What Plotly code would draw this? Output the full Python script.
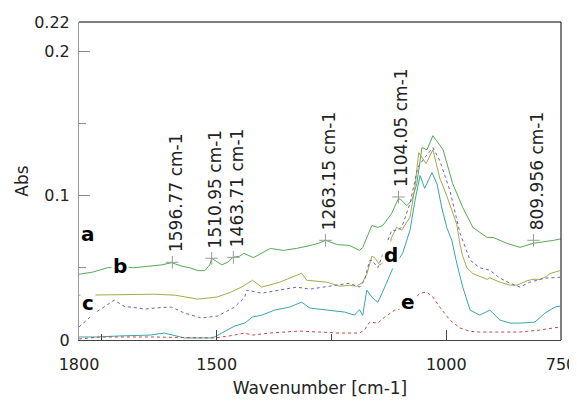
import plotly.graph_objects as go

# ---- data (wavenumber in cm-1, absorbance) ----
wn_a = [1800, 1770, 1738, 1710, 1681, 1650, 1620, 1598, 1575, 1559, 1540, 1526, 1515, 1511,
        1500, 1489, 1475, 1465, 1450, 1441, 1420, 1383, 1355, 1326, 1295, 1278, 1263, 1237,
        1211, 1189, 1182, 1162, 1149, 1138, 1119, 1104, 1097, 1086, 1075, 1064, 1053, 1042,
        1029, 1007, 986, 964, 942, 911, 898, 868, 839, 811, 766, 750]
abs_a = [0.0455, 0.047, 0.050, 0.051, 0.050, 0.051, 0.052, 0.0535, 0.051, 0.050, 0.048, 0.048,
         0.052, 0.0566, 0.054, 0.052, 0.054, 0.0572, 0.058, 0.060, 0.057, 0.0634, 0.062, 0.0634,
         0.0655, 0.067, 0.069, 0.066, 0.0655, 0.062, 0.064, 0.0793, 0.0779, 0.0793, 0.0876,
         0.098, 0.0966, 0.093, 0.0966, 0.1083, 0.1331, 0.1317, 0.1414, 0.1317, 0.1083, 0.0917,
         0.0779, 0.0710, 0.0710, 0.0669, 0.0641, 0.0669, 0.0690, 0.0700]

wn_b = [1800, 1751, 1700, 1635, 1590, 1542, 1500, 1470, 1446, 1422, 1402, 1363, 1330, 1315,
        1304, 1260, 1232, 1211, 1195, 1182, 1173, 1162, 1156, 1145, 1130, 1119, 1108, 1097,
        1079, 1068, 1060, 1044, 1029, 1014, 999, 988, 977, 970, 964, 955, 942, 927, 911, 905,
        898, 883, 861, 846, 824, 811, 796, 781, 774, 763, 752]
abs_b = [0.031, 0.031, 0.0314, 0.0317, 0.031, 0.0283, 0.0297, 0.033, 0.0366, 0.0414, 0.0366,
         0.040, 0.044, 0.0462, 0.0414, 0.0400, 0.0372, 0.0379, 0.0372, 0.0400, 0.0455, 0.0580,
         0.057, 0.052, 0.055, 0.071, 0.078, 0.076, 0.085, 0.106, 0.1297, 0.1221, 0.1317, 0.112,
         0.100, 0.090, 0.080, 0.066, 0.058, 0.050, 0.046, 0.044, 0.042, 0.043, 0.042, 0.040,
         0.038, 0.038, 0.041, 0.042, 0.042, 0.044, 0.046, 0.047, 0.048]

wn_c = [1800, 1766, 1723, 1700, 1686, 1657, 1620, 1598, 1570, 1533, 1498, 1461, 1439, 1435,
        1402, 1363, 1326, 1297, 1254, 1211, 1189, 1178, 1167, 1162, 1149, 1119, 1108, 1097,
        1079, 1062, 1047, 1029, 1014, 992, 970, 948, 927, 905, 883, 861, 839, 818, 785, 752]
abs_c = [0.009, 0.0186, 0.0276, 0.023, 0.0228, 0.0214, 0.0225, 0.0228, 0.0186, 0.0152, 0.0166,
         0.0228, 0.0297, 0.0345, 0.0324, 0.0345, 0.0366, 0.0352, 0.0372, 0.0393, 0.0366, 0.0414,
         0.055, 0.0552, 0.050, 0.0759, 0.0759, 0.0779, 0.0945, 0.1193, 0.1262, 0.1331, 0.1241,
         0.1034, 0.074, 0.0552, 0.050, 0.0483, 0.0428, 0.0393, 0.0366, 0.0400, 0.0428, 0.0434]

wn_d = [1800, 1760, 1712, 1646, 1614, 1598, 1570, 1515, 1505, 1489, 1461, 1439, 1422, 1402,
        1374, 1341, 1315, 1297, 1254, 1221, 1200, 1189, 1182, 1173, 1162, 1149, 1134, 1116,
        1095, 1079, 1068, 1057, 1047, 1031, 1020, 1010, 999, 988, 977, 964, 948, 927, 905,
        883, 861, 839, 807, 785, 763, 752]
abs_d = [0.0021, 0.0021, 0.0028, 0.0034, 0.0048, 0.0034, 0.0014, 0.0014, 0.0021, 0.0048,
         0.0097, 0.0117, 0.0159, 0.0172, 0.0207, 0.0228, 0.0262, 0.0221, 0.0207, 0.0193, 0.0172,
         0.021, 0.017, 0.0345, 0.0297, 0.026, 0.0366, 0.050, 0.060, 0.0759, 0.0966, 0.1138,
         0.105, 0.1159, 0.108, 0.092, 0.078, 0.069, 0.053, 0.0366, 0.0207, 0.0172, 0.0207,
         0.0138, 0.0117, 0.0117, 0.0124, 0.0186, 0.0228, 0.0234]

wn_e = [1800, 1755, 1646, 1537, 1505, 1472, 1439, 1422, 1385, 1320, 1276, 1232, 1189, 1178,
        1167, 1149, 1134, 1112, 1090, 1057, 1042, 1029, 1014, 992, 970, 948, 927, 883, 839,
        796, 752]
abs_e = [0.0007, 0.0021, 0.0021, 0.0014, 0.0014, 0.0028, 0.0048, 0.0034, 0.0048, 0.0062,
         0.0055, 0.0048, 0.0048, 0.0070, 0.0124, 0.0117, 0.0159, 0.0207, 0.0221, 0.0324, 0.0331,
         0.0297, 0.0228, 0.0138, 0.0083, 0.0060, 0.0055, 0.0055, 0.0055, 0.0069, 0.0090]

peak_wn = [1596.77, 1510.95, 1463.71, 1263.15, 1104.05, 809.956]
peak_abs = [0.0538, 0.0566, 0.0572, 0.069, 0.099, 0.069]
peak_labels = ["1596.77 cm-1", "1510.95 cm-1", "1463.71 cm-1", "1263.15 cm-1",
               "1104.05 cm-1", "809.956 cm-1"]

x_tick_vals = [1800, 1500, 1000, 750]
x_tick_text = ["1800", "1500", "1000", "750"]
y_tick_vals = [0, 0.1, 0.2, 0.22]
y_tick_text = ["0", "0.1", "0.2", "0.22"]

FONT = "DejaVu Sans"

fig = go.Figure()
series = [
    (wn_a, abs_a, "#55aa55", "solid"),
    (wn_b, abs_b, "#a8a84a", "solid"),
    (wn_c, abs_c, "#6262c8", "dot"),
    (wn_d, abs_d, "#3aa6a6", "solid"),
    (wn_e, abs_e, "#c04848", "dot"),
]
for xs, ys, col, dash in series:
    fig.add_trace(go.Scatter(x=xs, y=ys, mode="lines",
                             line=dict(color=col, width=1, dash=dash),
                             hoverinfo="skip"))

# peak cross markers
fig.add_trace(go.Scatter(x=peak_wn, y=peak_abs, mode="markers",
                         marker=dict(symbol="cross-thin", size=9,
                                     line=dict(color="#9a9a9a", width=1)),
                         hoverinfo="skip"))

for p, v, t in zip(peak_wn, peak_abs, peak_labels):
    fig.add_annotation(x=p, y=v, text=t, textangle=-90, showarrow=False,
                       xanchor="center", yanchor="bottom", yshift=8, xshift=3,
                       font=dict(family=FONT, size=17, color="#222222"))

# curve letters
for lab, xx, yy in [("a", 1780, 0.0735), ("b", 1710, 0.051), ("c", 1780, 0.0258),
                    ("d", 1121, 0.0586), ("e", 1083, 0.026)]:
    fig.add_annotation(x=xx, y=yy, text="<b>%s</b>" % lab, showarrow=False,
                       xanchor="center", yanchor="middle", bgcolor="white",
                       borderpad=1,
                       font=dict(family=FONT, size=20, color="black"))

# frame top and right
fig.add_shape(type="line", xref="paper", yref="paper", x0=0, x1=1, y0=1, y1=1,
              line=dict(color="black", width=1))
fig.add_shape(type="line", xref="paper", yref="paper", x0=1, x1=1, y0=0, y1=1,
              line=dict(color="black", width=1))

fig.update_layout(
    width=569, height=393,
    margin=dict(l=71, r=16, t=14, b=61),
    paper_bgcolor="white", plot_bgcolor="white",
    showlegend=False,
    font=dict(family=FONT, size=17, color="#222222"),
    xaxis=dict(range=[1800, 750], tickmode="array", tickvals=x_tick_vals,
               ticktext=x_tick_text, ticks="inside", ticklen=10, tickcolor="#444444",
               showline=True, linecolor="#444444", linewidth=1, showgrid=False,
               zeroline=False, ticklabelstandoff=10, automargin=False,
               tickfont=dict(family=FONT, size=16, color="#222222"),
               minor=dict(tickmode="array", tickvals=[1750, 1250], ticks="inside",
                          ticklen=6, tickcolor="#444444"),
               title=dict(text="Wavenumber [cm-1]", standoff=8,
                          font=dict(family=FONT, size=17, color="#222222"))),
    yaxis=dict(range=[0, 0.2201], tickmode="array", tickvals=y_tick_vals,
               ticktext=y_tick_text, ticks="inside", ticklen=11, tickcolor="#8a8a8a",
               showline=True, linecolor="#9a9a9a", linewidth=1, showgrid=False,
               zeroline=False, ticklabelstandoff=5, automargin=False,
               tickfont=dict(family=FONT, size=16, color="#222222"),
               minor=dict(tickmode="array", tickvals=[0.05, 0.15], ticks="inside",
                          ticklen=7, tickcolor="#8a8a8a"),
               title=dict(text="Abs", standoff=1,
                          font=dict(family=FONT, size=17, color="#222222"))),
)

fig.write_html("out.html")
